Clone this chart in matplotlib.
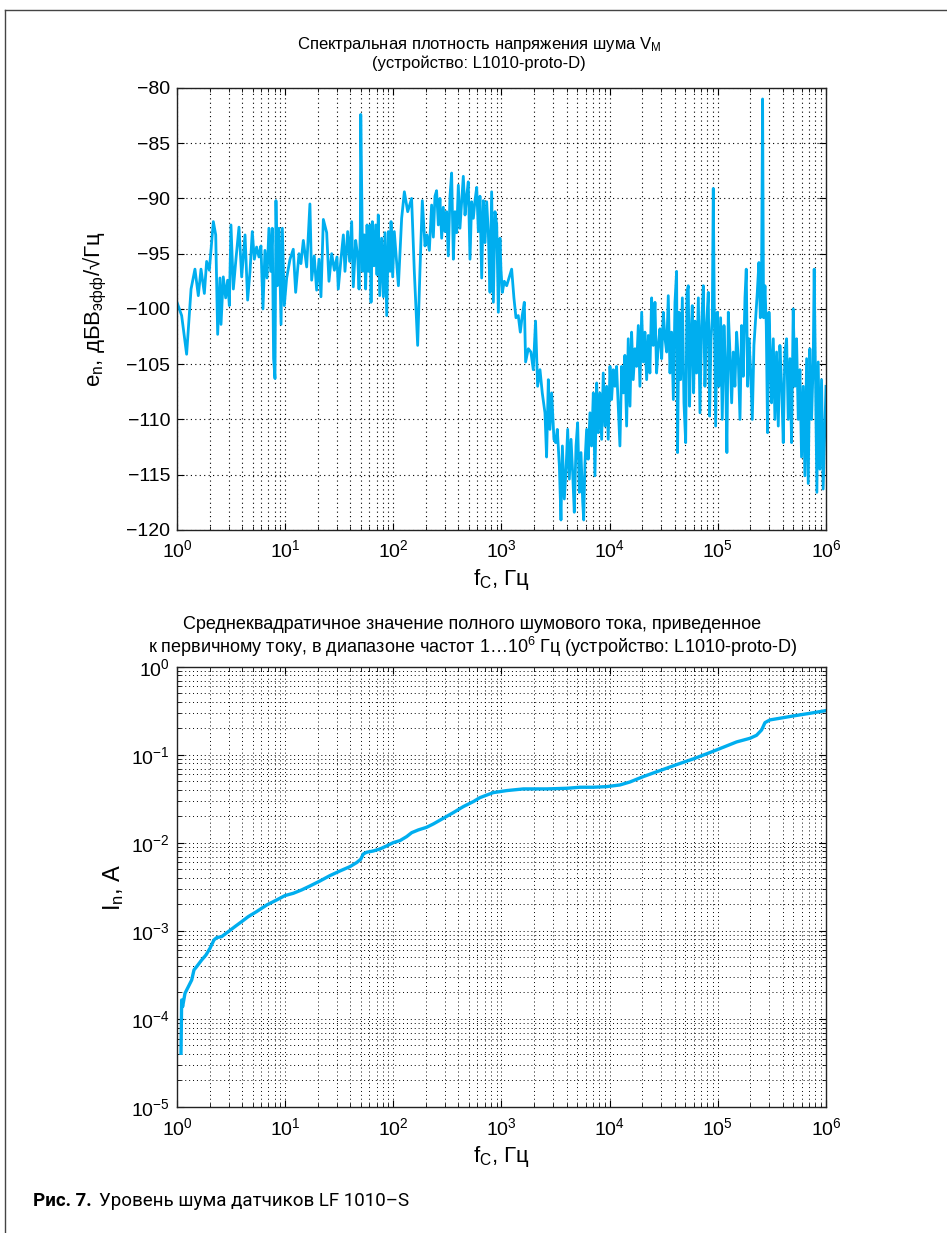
import numpy as np
import matplotlib
matplotlib.use("Agg")
import matplotlib.pyplot as plt
from matplotlib.lines import Line2D
from matplotlib.ticker import LogLocator, NullFormatter, MultipleLocator

plt.rcParams['font.family'] = ['Liberation Sans', 'DejaVu Sans']
plt.rcParams['mathtext.fontset'] = 'custom'
plt.rcParams['mathtext.rm'] = 'Liberation Sans'
plt.rcParams['mathtext.it'] = 'Liberation Sans:italic'
plt.rcParams['mathtext.bf'] = 'Liberation Sans:bold'

# ---- top chart: noise spectral density (log10 f, dB) ----
spec_logf = [
    0.0, 0.043, 0.089, 0.13, 0.166, 0.197, 0.222, 0.253, 0.274, 0.299, 0.336, 0.358, 0.376, 0.397,
    0.407, 0.428, 0.45, 0.468, 0.484, 0.499, 0.521, 0.545, 0.573, 0.598, 0.629, 0.653, 0.675, 0.696,
    0.715, 0.736, 0.758, 0.776, 0.795, 0.813, 0.832, 0.85, 0.866, 0.881, 0.893, 0.906, 0.915, 0.928,
    0.943, 0.962, 0.974, 0.992, 1.014, 1.045, 1.075, 1.097, 1.128, 1.146, 1.168, 1.199, 1.229, 1.245,
    1.269, 1.291, 1.313, 1.331, 1.353, 1.384, 1.405, 1.43, 1.455, 1.479, 1.491, 1.516, 1.538,
    1.553, 1.578, 1.596, 1.615, 1.63, 1.652, 1.67, 1.683, 1.695, 1.699, 1.717, 1.732, 1.744, 1.757,
    1.769, 1.785, 1.794, 1.806, 1.821, 1.837, 1.849, 1.861, 1.874, 1.892, 1.908, 1.923, 1.939, 1.954,
    1.97, 1.979, 1.994, 2.009, 2.028, 2.047, 2.077, 2.102, 2.133, 2.169, 2.194, 2.225, 2.246, 2.268,
    2.293, 2.311, 2.333, 2.354, 2.37, 2.385, 2.4, 2.416, 2.431, 2.447, 2.462, 2.477, 2.493, 2.508,
    2.524, 2.539, 2.555, 2.57, 2.586, 2.601, 2.616, 2.632, 2.647, 2.663, 2.678, 2.693, 2.709, 2.724,
    2.74, 2.755, 2.771, 2.786, 2.801, 2.817, 2.832, 2.848, 2.863, 2.878, 2.894, 2.909, 2.925, 2.94,
    2.956, 2.971, 2.986, 2.995, 3.008, 3.026, 3.048, 3.069, 3.094, 3.115, 3.134, 3.155, 3.174,
    3.192, 3.211, 3.223, 3.248, 3.272, 3.294, 3.315, 3.334, 3.356, 3.377, 3.402, 3.417, 3.433, 3.448,
    3.464, 3.485, 3.501, 3.516, 3.535, 3.55, 3.563, 3.581, 3.597, 3.612, 3.627, 3.643, 3.658, 3.673,
    3.689, 3.704, 3.72, 3.735, 3.751, 3.76, 3.772, 3.787, 3.802, 3.818, 3.833, 3.849, 3.864, 3.88,
    3.895, 3.91, 3.926, 3.941, 3.957, 3.972, 3.987, 4.003, 4.018, 4.034, 4.049, 4.064, 4.08, 4.095,
    4.111, 4.126, 4.141, 4.157, 4.172, 4.188, 4.203, 4.218, 4.234, 4.249, 4.265, 4.28, 4.296, 4.311,
    4.326, 4.342, 4.357, 4.372, 4.388, 4.403, 4.419, 4.434, 4.45, 4.465, 4.481, 4.496, 4.512, 4.527,
    4.542, 4.558, 4.573, 4.589, 4.604, 4.619, 4.628, 4.641, 4.656, 4.672, 4.687, 4.703, 4.715, 4.727,
    4.739, 4.752, 4.764, 4.776, 4.789, 4.804, 4.82, 4.835, 4.85, 4.866, 4.881, 4.896, 4.912, 4.924,
    4.937, 4.949, 4.958, 4.967, 4.98, 4.995, 5.01, 5.026, 5.041, 5.057, 5.072, 5.084, 5.097, 5.112,
    5.128, 5.143, 5.158, 5.174, 5.189, 5.205, 5.22, 5.235, 5.251, 5.263, 5.276, 5.288, 5.303, 5.319,
    5.334, 5.35, 5.365, 5.38, 5.393, 5.405, 5.414, 5.423, 5.436, 5.448, 5.46, 5.473, 5.485, 5.497,
    5.513, 5.528, 5.543, 5.559, 5.574, 5.59, 5.605, 5.62, 5.636, 5.651, 5.667, 5.682, 5.697, 5.713,
    5.728, 5.744, 5.759, 5.774, 5.79, 5.805, 5.821, 5.836, 5.851, 5.867, 5.882, 5.891, 5.904, 5.916,
    5.928, 5.944, 5.959, 5.974, 6.0,
]
spec_db = [
    -99.4, -100.6, -104.1, -98.2, -96.4, -98.8, -96.4, -98.6, -95.7, -96.5, -92.1, -93.3, -102.3, -97.2,
    -101.4, -97.1, -99.0, -97.4, -99.7, -92.4, -98.2, -95.5, -92.6, -97.1, -93.3, -99.2, -96.6, -93.0,
    -95.5, -94.4, -95.3, -94.3, -100.0, -94.7, -97.2, -92.7, -96.6, -92.7, -104.5, -106.3, -90.2, -97.9,
    -92.7, -101.4, -92.7, -99.7, -97.2, -95.5, -94.6, -98.5, -95.0, -95.9, -93.8, -96.2, -90.5, -97.4,
    -95.2, -98.3, -95.5, -98.9, -91.9, -93.1, -97.5, -95.0, -96.5, -95.3, -98.2, -95.5, -93.3,
    -96.6, -93.0, -95.7, -92.1, -98.0, -93.8, -95.2, -98.2, -92.7, -82.4, -96.6, -93.3, -98.2, -92.4,
    -96.6, -92.4, -99.4, -92.1, -96.1, -92.4, -96.9, -91.5, -98.8, -93.6, -98.9, -93.1, -100.6, -93.0,
    -96.6, -92.1, -97.1, -93.0, -95.5, -97.9, -91.8, -89.4, -91.2, -90.0, -96.6, -103.3, -96.6, -90.2,
    -94.3, -93.3, -94.7, -90.6, -93.5, -89.8, -89.3, -92.4, -90.0, -93.6, -90.8, -93.0, -91.2, -95.2,
    -89.8, -87.7, -95.5, -91.2, -93.1, -88.8, -92.7, -90.3, -88.0, -91.5, -89.8, -88.5, -95.5, -90.3,
    -91.8, -90.2, -89.0, -93.0, -89.8, -97.2, -90.2, -94.0, -90.3, -93.0, -98.5, -89.4, -99.4, -91.2,
    -92.4, -100.3, -93.6, -96.4, -98.5, -97.5, -97.9, -97.2, -96.4, -99.0, -100.8, -100.6, -102.1,
    -100.6, -99.4, -104.8, -103.6, -103.9, -105.5, -101.1, -107.0, -105.5, -107.6, -109.4, -113.4, -106.4, -110.9,
    -107.6, -111.8, -112.1, -110.9, -114.2, -119.1, -112.4, -117.2, -114.5, -110.9, -115.4, -111.8, -114.8, -118.4,
    -112.4, -110.3, -116.6, -113.0, -117.5, -119.1, -113.9, -110.9, -113.6, -109.4, -112.4, -107.6, -115.1, -106.7,
    -111.2, -107.6, -111.8, -105.8, -110.6, -107.0, -111.8, -105.2, -108.2, -105.5, -107.0, -105.2, -108.8, -112.4,
    -105.2, -107.6, -104.2, -110.6, -102.7, -108.8, -102.1, -106.4, -103.6, -105.2, -101.5, -107.0, -100.3, -104.8,
    -102.1, -106.4, -102.4, -105.8, -99.0, -103.3, -99.4, -105.8, -103.3, -101.8, -104.5, -100.3, -102.7, -103.9,
    -98.8, -105.8, -102.1, -108.2, -99.4, -96.6, -113.0, -100.3, -106.4, -99.0, -108.5, -112.1, -98.5, -97.9,
    -108.8, -102.4, -99.7, -107.6, -101.1, -105.8, -99.0, -109.4, -101.5, -97.9, -107.0, -101.5, -98.5, -109.7,
    -102.7, -100.8, -89.1, -99.4, -110.6, -100.3, -107.0, -100.8, -110.0, -101.5, -105.8, -113.0, -100.3, -103.9,
    -108.5, -103.9, -107.0, -102.1, -104.5, -110.0, -101.5, -106.1, -99.0, -96.4, -107.0, -102.7, -105.5, -110.0,
    -103.3, -100.8, -98.5, -95.8, -100.8, -96.1, -81.0, -100.8, -97.9, -101.5, -111.2, -100.3, -103.9, -108.5,
    -102.7, -110.0, -103.9, -110.6, -103.3, -107.0, -112.1, -103.9, -102.7, -110.0, -104.5, -112.1, -100.0, -107.0,
    -102.7, -110.0, -105.5, -113.4, -107.0, -115.1, -104.5, -115.8, -103.6, -110.0, -104.8, -96.4, -107.0, -116.6,
    -104.8, -114.5, -106.4, -116.3, -107.0,
]

# ---- bottom chart: integrated RMS noise current (log10 f, log10 I) ----
rms_logf = [
    0.037, 0.043, 0.052, 0.074, 0.105, 0.136, 0.157, 0.182, 0.228, 0.268, 0.305, 0.342, 0.367, 0.413,
    0.474, 0.536, 0.598, 0.659, 0.736, 0.829, 0.921, 0.998, 1.075, 1.152, 1.229, 1.322, 1.414, 1.507,
    1.599, 1.661, 1.698, 1.723, 1.753, 1.815, 1.877, 1.938, 2.0, 2.062, 2.123, 2.17, 2.231, 2.308,
    2.37, 2.462, 2.555, 2.647, 2.74, 2.801, 2.924, 3.048, 3.202, 3.418, 3.602, 3.726, 3.849, 3.972,
    4.095, 4.188, 4.311, 4.465, 4.619, 4.773, 4.927, 5.05, 5.174, 5.297, 5.358, 5.405, 5.436, 5.482,
    5.574, 5.697, 5.851, 6.0,
]
rms_logi = [
    -4.39, -3.784, -3.86, -3.708, -3.633, -3.557, -3.443, -3.405, -3.33, -3.273, -3.197, -3.102, -3.076, -3.064,
    -3.008, -2.95, -2.894, -2.837, -2.78, -2.705, -2.648, -2.598, -2.572, -2.534, -2.489, -2.432, -2.371, -2.318,
    -2.269, -2.223, -2.186, -2.125, -2.106, -2.091, -2.068, -2.034, -1.996, -1.973, -1.928, -1.883, -1.852, -1.822,
    -1.784, -1.72, -1.655, -1.587, -1.53, -1.485, -1.428, -1.405, -1.386, -1.386, -1.379, -1.367, -1.367, -1.36,
    -1.341, -1.307, -1.246, -1.178, -1.11, -1.045, -0.973, -0.913, -0.852, -0.811, -0.777, -0.716, -0.633, -0.602,
    -0.583, -0.557, -0.527, -0.496,
]

title_top = 'Спектральная плотность напряжения шума V$_\\mathrm{M}$\n(устройство: L1010-proto-D)'
title_bot = ('Среднеквадратичное значение полного шумового тока, приведенное\n'
             'к первичному току, в диапазоне частот 1…10$^6$ Гц (устройство: L1010-proto-D)')
ylabel_top = 'e$_\\mathrm{n}$, дБВ$_\\mathrm{эфф}$/√Гц'
ylabel_bot = 'I$_\\mathrm{n}$, A'
xlabel = 'f$_\\mathrm{C}$, Гц'
caption_bold = 'Рис. 7.'
caption_text = 'Уровень шума датчиков LF 1010–S'

line_color = '#00AEEF'

fig = plt.figure(figsize=(9.47, 12.33), dpi=100)

def style(ax):
    ax.tick_params(which='both', direction='in', top=True, right=True, labelsize=14)
    ax.tick_params(axis='x', which='major', pad=7)
    ax.tick_params(axis='y', which='major', pad=5)
    ax.tick_params(which='major', length=5)
    ax.tick_params(which='minor', length=3)
    for s in ax.spines.values():
        s.set_linewidth(1.0)
        s.set_color('#222222')

# top axes
ax1 = fig.add_axes([0.1869, 0.5702, 0.6853, 0.3585])
ax1.plot(10 ** np.array(spec_logf), spec_db, color=line_color, lw=2.0)
ax1.set_xscale('log')
ax1.set_xlim(1, 1e6)
ax1.set_ylim(-120, -80)
ax1.yaxis.set_major_locator(MultipleLocator(5))
ax1.xaxis.set_major_locator(LogLocator(base=10, numticks=10))
ax1.xaxis.set_minor_locator(LogLocator(base=10, subs=np.arange(2, 10), numticks=100))
ax1.xaxis.set_minor_formatter(NullFormatter())
ax1.grid(which='major', axis='both', color='black', linestyle=(0, (1, 3)), linewidth=0.8)
ax1.grid(which='minor', axis='x', color='black', linestyle=(0, (1, 3)), linewidth=0.8)
style(ax1)
ax1.set_title(title_top, fontsize=12, pad=14, linespacing=1.15, x=0.465)
ax1.set_ylabel(ylabel_top, fontsize=16, labelpad=12)
ax1.set_xlabel(xlabel, fontsize=16, labelpad=4)

# bottom axes
ax2 = fig.add_axes([0.1869, 0.1022, 0.6853, 0.3569])
ax2.plot(10 ** np.array(rms_logf), 10 ** np.array(rms_logi), color=line_color, lw=2.4)
ax2.set_xscale('log')
ax2.set_yscale('log')
ax2.set_xlim(1, 1e6)
ax2.set_ylim(1e-5, 1)
for axis in (ax2.xaxis, ax2.yaxis):
    axis.set_major_locator(LogLocator(base=10, numticks=10))
    axis.set_minor_locator(LogLocator(base=10, subs=np.arange(2, 10), numticks=100))
    axis.set_minor_formatter(NullFormatter())
ax2.grid(which='both', axis='both', color='black', linestyle=(0, (1, 3)), linewidth=0.7)
style(ax2)
ax2.set_title(title_bot, fontsize=13, pad=10, linespacing=1.1, x=0.455)
ax2.set_ylabel(ylabel_bot, fontsize=17, labelpad=4)
ax2.set_xlabel(xlabel, fontsize=16, labelpad=4)

# caption
t = fig.text(33 / 947, 1 - 1201 / 1233, caption_bold, fontsize=13.5, fontweight='bold',
             family=['Roboto', 'DejaVu Sans'], va='center', ha='left')
fig.canvas.draw()
bb = t.get_window_extent()
fig.text((bb.x1 + 7) / 947, 1 - 1201 / 1233, caption_text, fontsize=13.5,
         family=['Roboto', 'DejaVu Sans'], va='center', ha='left')

# frame lines
fig.add_artist(Line2D([5 / 947, 1.0], [1 - 10 / 1233, 1 - 10 / 1233], color='#444444', lw=1.0))
fig.add_artist(Line2D([5 / 947, 5 / 947], [0, 1 - 10 / 1233], color='#444444', lw=1.0))

fig.savefig('out.png', dpi=100)
